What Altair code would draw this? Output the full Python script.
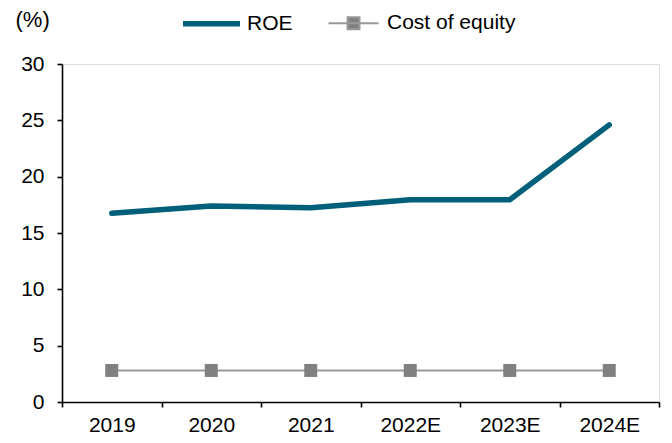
import altair as alt
import pandas as pd

years = ["2019", "2020", "2021", "2022E", "2023E", "2024E"]
roe = [16.75, 17.4, 17.25, 17.95, 17.95, 24.6]
cost_of_equity = [2.8, 2.8, 2.8, 2.8, 2.8, 2.8]
series_names = ["ROE", "Cost of equity"]

df = pd.DataFrame({
    "year": years * 2,
    "value": roe + cost_of_equity,
    "series": ["ROE"] * len(years) + ["Cost of equity"] * len(years),
})

FONT = "Liberation Sans"
TEAL = "#00607A"
GREY = "#808080"
LIGHTGREY = "#999999"
FS = 21

x = alt.X("year:N", sort=years, title=None,
          scale=alt.Scale(paddingInner=0, paddingOuter=0),
          axis=alt.Axis(tickBand="extent", labelAngle=0, labelFontSize=FS,
                        labelFont=FONT, labelColor="black", labelPadding=7,
                        domainColor="black", tickColor="black", tickSize=5,
                        domainWidth=1.6, tickWidth=1.6))
y = alt.Y("value:Q", title="(%)",
          scale=alt.Scale(domain=[0, 30], nice=False),
          axis=alt.Axis(values=[0, 5, 10, 15, 20, 25, 30], grid=False,
                        labelFontSize=FS, labelFont=FONT, labelColor="black",
                        labelPadding=13,
                        domainColor="black", tickColor="black", tickSize=5,
                        domainWidth=1.6, tickWidth=1.6,
                        titleAngle=0, titleFontSize=22, titleFont=FONT,
                        titleFontWeight="normal", titleAlign="left",
                        titleBaseline="middle", titleX=-47, titleY=-45))

base = alt.Chart(df)

roe_line = base.transform_filter(alt.datum.series == "ROE").mark_line(
    color=TEAL, strokeWidth=5.5, strokeCap="round", strokeJoin="round"
).encode(x=x, y=y)

cost_line = base.transform_filter(alt.datum.series == "Cost of equity").mark_line(
    color=LIGHTGREY, strokeWidth=2
).encode(x=x, y=y)

cost_points = base.transform_filter(alt.datum.series == "Cost of equity").mark_square(
    size=169, opacity=1, color=GREY
).encode(x=x, y=y)

legend = alt.Legend(
    title=None, orient="none", direction="horizontal", legendX=118, legendY=-72,
    labelFontSize=FS, labelFont=FONT, labelColor="black", padding=0,
    symbolSize=3249, symbolOpacity=1, columnPadding=31, labelOffset=4,
)

legend_layer = base.mark_point(size=3249, opacity=0).encode(
    x=x, y=y,
    fill=alt.Fill("series:N", sort=series_names, legend=legend,
                  scale=alt.Scale(domain=series_names, range=["transparent", GREY])),
    stroke=alt.Stroke("series:N", sort=series_names, legend=legend,
                      scale=alt.Scale(domain=series_names, range=[TEAL, LIGHTGREY])),
    shape=alt.Shape("series:N", sort=series_names, legend=legend,
                    scale=alt.Scale(domain=series_names,
                                    range=["M-1,0H1",
                                           "M-0.877,0H0.877M-0.21,-0.21H0.21V0.21H-0.21Z"])),
    strokeWidth=alt.StrokeWidth("series:N", sort=series_names, legend=legend,
                                scale=alt.Scale(domain=series_names, range=[5.5, 2])),
)

chart = alt.layer(cost_line, cost_points, roe_line, legend_layer).properties(
    width=597, height=338,
    padding={"left": 54, "top": 56, "right": 5, "bottom": 38},
    autosize=alt.AutoSizeParams(type="none"),
).configure_view(stroke=None).configure(background="white")

chart.save("out.html", embed_options={"renderer": "svg", "actions": False})
